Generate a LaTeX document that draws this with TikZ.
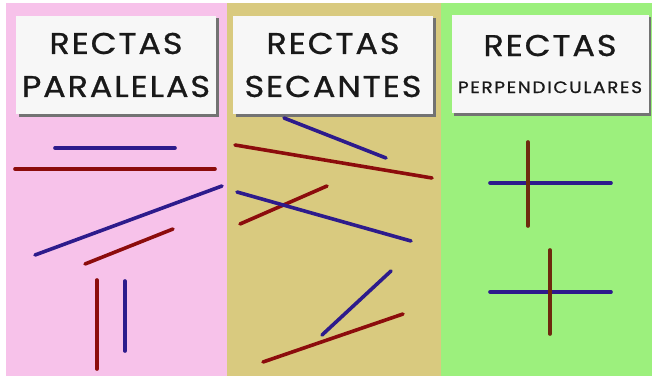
\documentclass[tikz,border=0pt]{standalone}
\usepackage{fontspec}
\setmainfont{Poppins}[FakeBold=0.8,FakeStretch=1.12,LetterSpace=6]
\usepackage{tikz}
\usetikzlibrary{positioning,shadows}

\definecolor{pinkbg}{HTML}{F7C2EA}
\definecolor{tanbg}{HTML}{D9CA7F}
\definecolor{greenbg}{HTML}{9CF07D}
\definecolor{redline}{HTML}{8C0C0C}
\definecolor{blueline}{HTML}{2D1B8C}
\definecolor{brownline}{HTML}{6E2A0E}

\begin{document}
\begin{tikzpicture}[x=1pt,y=-1pt]
	\tikzset{rectbox/.style={fill=white!97!black,minimum width=200pt,minimum height=98pt,inner sep=0pt,align=center,
		font=\fontsize{30}{43}\selectfont,text=black!90,
		drop shadow={shadow xshift=2.5pt,shadow yshift=-2.5pt,fill=black!55,opacity=1}}}
	\tikzstyle{seg}=[line width=3.6pt,line cap=round]
	\useasboundingbox (0,0) rectangle (652,377);
	\fill[white] (0,0) rectangle (652,377);

	%% Panels
	\fill[pinkbg] (6,3) rectangle (227,376);
	\fill[tanbg] (227,3) rectangle (441,376);
	\fill[greenbg] (441,3) rectangle (652,376);

	%% Headers
	\node[rectbox] (paralelas) at (116,65) {RECTAS\\PARALELAS};
	\node[rectbox] (secantes) at (333,65) {RECTAS\\SECANTES};
	\node[rectbox,minimum width=197pt] (perpend) at (550,64) {RECTAS\\[-6pt]{\fontsize{16.5}{20}\selectfont\addfontfeatures{LetterSpace=10}PERPENDICULARES}};

	%% Paralelas
	\draw[seg,blueline] (55,148) -- (175,148);
	\draw[seg,redline] (15,169) -- (215,169);
	\draw[seg,blueline] (35,255) -- (222,186);
	\draw[seg,redline] (85,264) -- (173,229);
	\draw[seg,redline] (97,280) -- (97,369);
	\draw[seg,blueline] (125,281) -- (125,351);

	%% Secantes
	\draw[seg,blueline] (284,118) -- (386,158);
	\draw[seg,redline] (235,145) -- (432,178);
	\draw[seg,redline] (240,224) -- (327,186);
	\draw[seg,blueline] (237,192) -- (411,241);
	\draw[seg,blueline] (322,335) -- (391,271);
	\draw[seg,redline] (263,362) -- (403,314);

	%% Perpendiculares
	\draw[seg,blueline] (490,183) -- (611,183);
	\draw[seg,brownline] (528,142) -- (528,226);
	\draw[seg,blueline] (490,292) -- (611,292);
	\draw[seg,brownline] (550,250) -- (550,334);
\end{tikzpicture}
\end{document}
